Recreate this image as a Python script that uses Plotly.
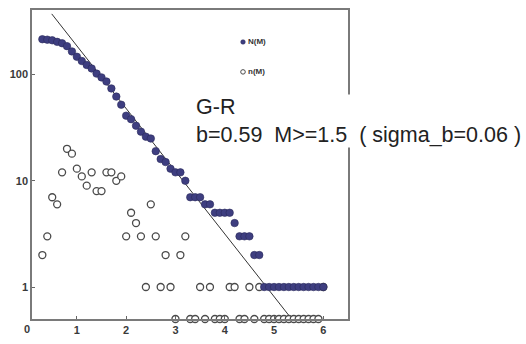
import plotly.graph_objects as go
import math

# ---- data ----
magnitudes = [0.3, 0.4, 0.5, 0.6, 0.7, 0.8, 0.9, 1.0, 1.1, 1.2, 1.3, 1.4, 1.5, 1.6, 1.7,
              1.8, 1.9, 2.0, 2.1, 2.2, 2.3, 2.4, 2.5, 2.6, 2.7, 2.8, 2.9, 3.0, 3.1, 3.2,
              3.3, 3.4, 3.5, 3.6, 3.7, 3.8, 3.9, 4.0, 4.1, 4.2, 4.3, 4.4, 4.5, 4.6, 4.7,
              4.8, 4.9, 5.0, 5.1, 5.2, 5.3, 5.4, 5.5, 5.6, 5.7, 5.8, 5.9, 6.0]
N_cum = [215, 213, 210, 203, 197, 185, 165, 147, 134, 123, 114, 102, 94, 86, 74,
         62, 52, 41, 38, 33, 29, 26, 25, 19, 16, 15, 13, 12, 12, 10,
         7, 7, 7, 6, 6, 5, 5, 5, 5, 4, 3, 3, 3, 2, 2,
         1, 1, 1, 1, 1, 1, 1, 1, 1, 1, 1, 1, 1]
n_inc = [2, 3, 7, 6, 12, 20, 18, 13, 11, 9, 12, 8, 8, 12, 12,
         10, 11, 3, 5, 4, 3, 1, 6, 3, 1, 2, 1, 0, 2, 3,
         0, 0, 1, 0, 1, 0, 0, 0, 1, 1, 0, 0, 1, 0, 1,
         0, 0, 0, 0, 0, 0, 0, 0, 0, 0, 0, 0, 1]
zero_floor = 0.5          # where zero counts are drawn on the log axis
fit_a = 2.86               # log10 N = a - b M
fit_b = 0.59
fit_M = [0.49, 5.35]
x_tick_vals = [1, 2, 3, 4, 5, 6]
y_tick_vals = [1, 10, 100]
y_tick_text = ["1", "10", "100"]
legend_names = ["N(M)", "n(M)"]
note_text = "G-R<br>b=0.59\u00a0\u00a0M>=1.5\u00a0\u00a0(\u00a0sigma_b=0.06\u00a0)"

# ---- layout geometry ----
W, H = 526, 344
L, R, T, B = 32, 178, 8, 20
PW, PH = W - L - R, H - T - B


def px(xp):
    return (xp - L) / PW


def py(yp):
    return (H - B - yp) / PH


n_plot = [v if v > 0 else zero_floor for v in n_inc]
fit_N = [10 ** (fit_a - fit_b * m) for m in fit_M]

fig = go.Figure()
fig.add_trace(go.Scatter(
    x=fit_M, y=fit_N, mode="lines",
    line=dict(color="#333333", width=1), showlegend=False, cliponaxis=True))
fig.add_trace(go.Scatter(
    x=magnitudes, y=n_plot, mode="markers", name=legend_names[1],
    marker=dict(symbol="circle", size=7, color="white",
                line=dict(color="#4a4a4a", width=1.3)),
    cliponaxis=False, showlegend=False))
fig.add_trace(go.Scatter(
    x=magnitudes, y=N_cum, mode="markers", name=legend_names[0],
    marker=dict(symbol="circle", size=7.5, color="#3e3e80",
                line=dict(color="#2a2a5a", width=0.6)),
    cliponaxis=False, showlegend=False))

axis_font = dict(family="Liberation Sans, Arial", size=11, color="#3a3a3a", weight="bold")
fig.update_xaxes(range=[0.09, 6.5], tickvals=x_tick_vals, ticks="inside", ticklen=3,
                 tickcolor="#666", showline=True, linecolor="#7a7a7a", linewidth=1.5,
                 mirror=True, showgrid=False, zeroline=False, tickfont=axis_font)
fig.update_yaxes(type="log", range=[math.log10(0.5), math.log10(405)],
                 tickvals=y_tick_vals, ticktext=y_tick_text, ticks="inside", ticklen=3,
                 tickcolor="#666", showline=True, linecolor="#7a7a7a", linewidth=1.5,
                 mirror=True, showgrid=False, zeroline=False, tickfont=axis_font)

legend_font = dict(family="Liberation Sans, Arial", size=8, color="#333", weight="bold")
annotations = [
    dict(x=px(27), y=py(326), xref="paper", yref="paper", text="0", showarrow=False,
         xanchor="center", yanchor="top", font=axis_font),
    dict(x=px(246), y=py(40.7), xref="paper", yref="paper", text=legend_names[0],
         showarrow=False, xanchor="left", yanchor="middle", font=legend_font),
    dict(x=px(246), y=py(71.3), xref="paper", yref="paper", text=legend_names[1],
         showarrow=False, xanchor="left", yanchor="middle", font=legend_font),
    dict(x=px(195), y=py(94), xref="paper", yref="paper", text=note_text,
         showarrow=False, xanchor="left", yanchor="top", align="left",
         bgcolor="white", borderpad=0,
         font=dict(family="Liberation Sans, Arial", size=21.5, color="#222")),
]

r = 2.3
shapes = [
    dict(type="circle", xref="paper", yref="paper",
         x0=px(243 - r), x1=px(243 + r), y0=py(40.7 + r), y1=py(40.7 - r),
         fillcolor="#3e3e80", line=dict(color="#2a2a5a", width=0.5)),
    dict(type="circle", xref="paper", yref="paper",
         x0=px(243 - r), x1=px(243 + r), y0=py(71.3 + r), y1=py(71.3 - r),
         fillcolor="white", line=dict(color="#4a4a4a", width=1)),
]

fig.update_layout(width=W, height=H, margin=dict(l=L, r=R, t=T, b=B),
                  paper_bgcolor="white", plot_bgcolor="white",
                  annotations=annotations, shapes=shapes, showlegend=False)

fig.write_html("out.html")
